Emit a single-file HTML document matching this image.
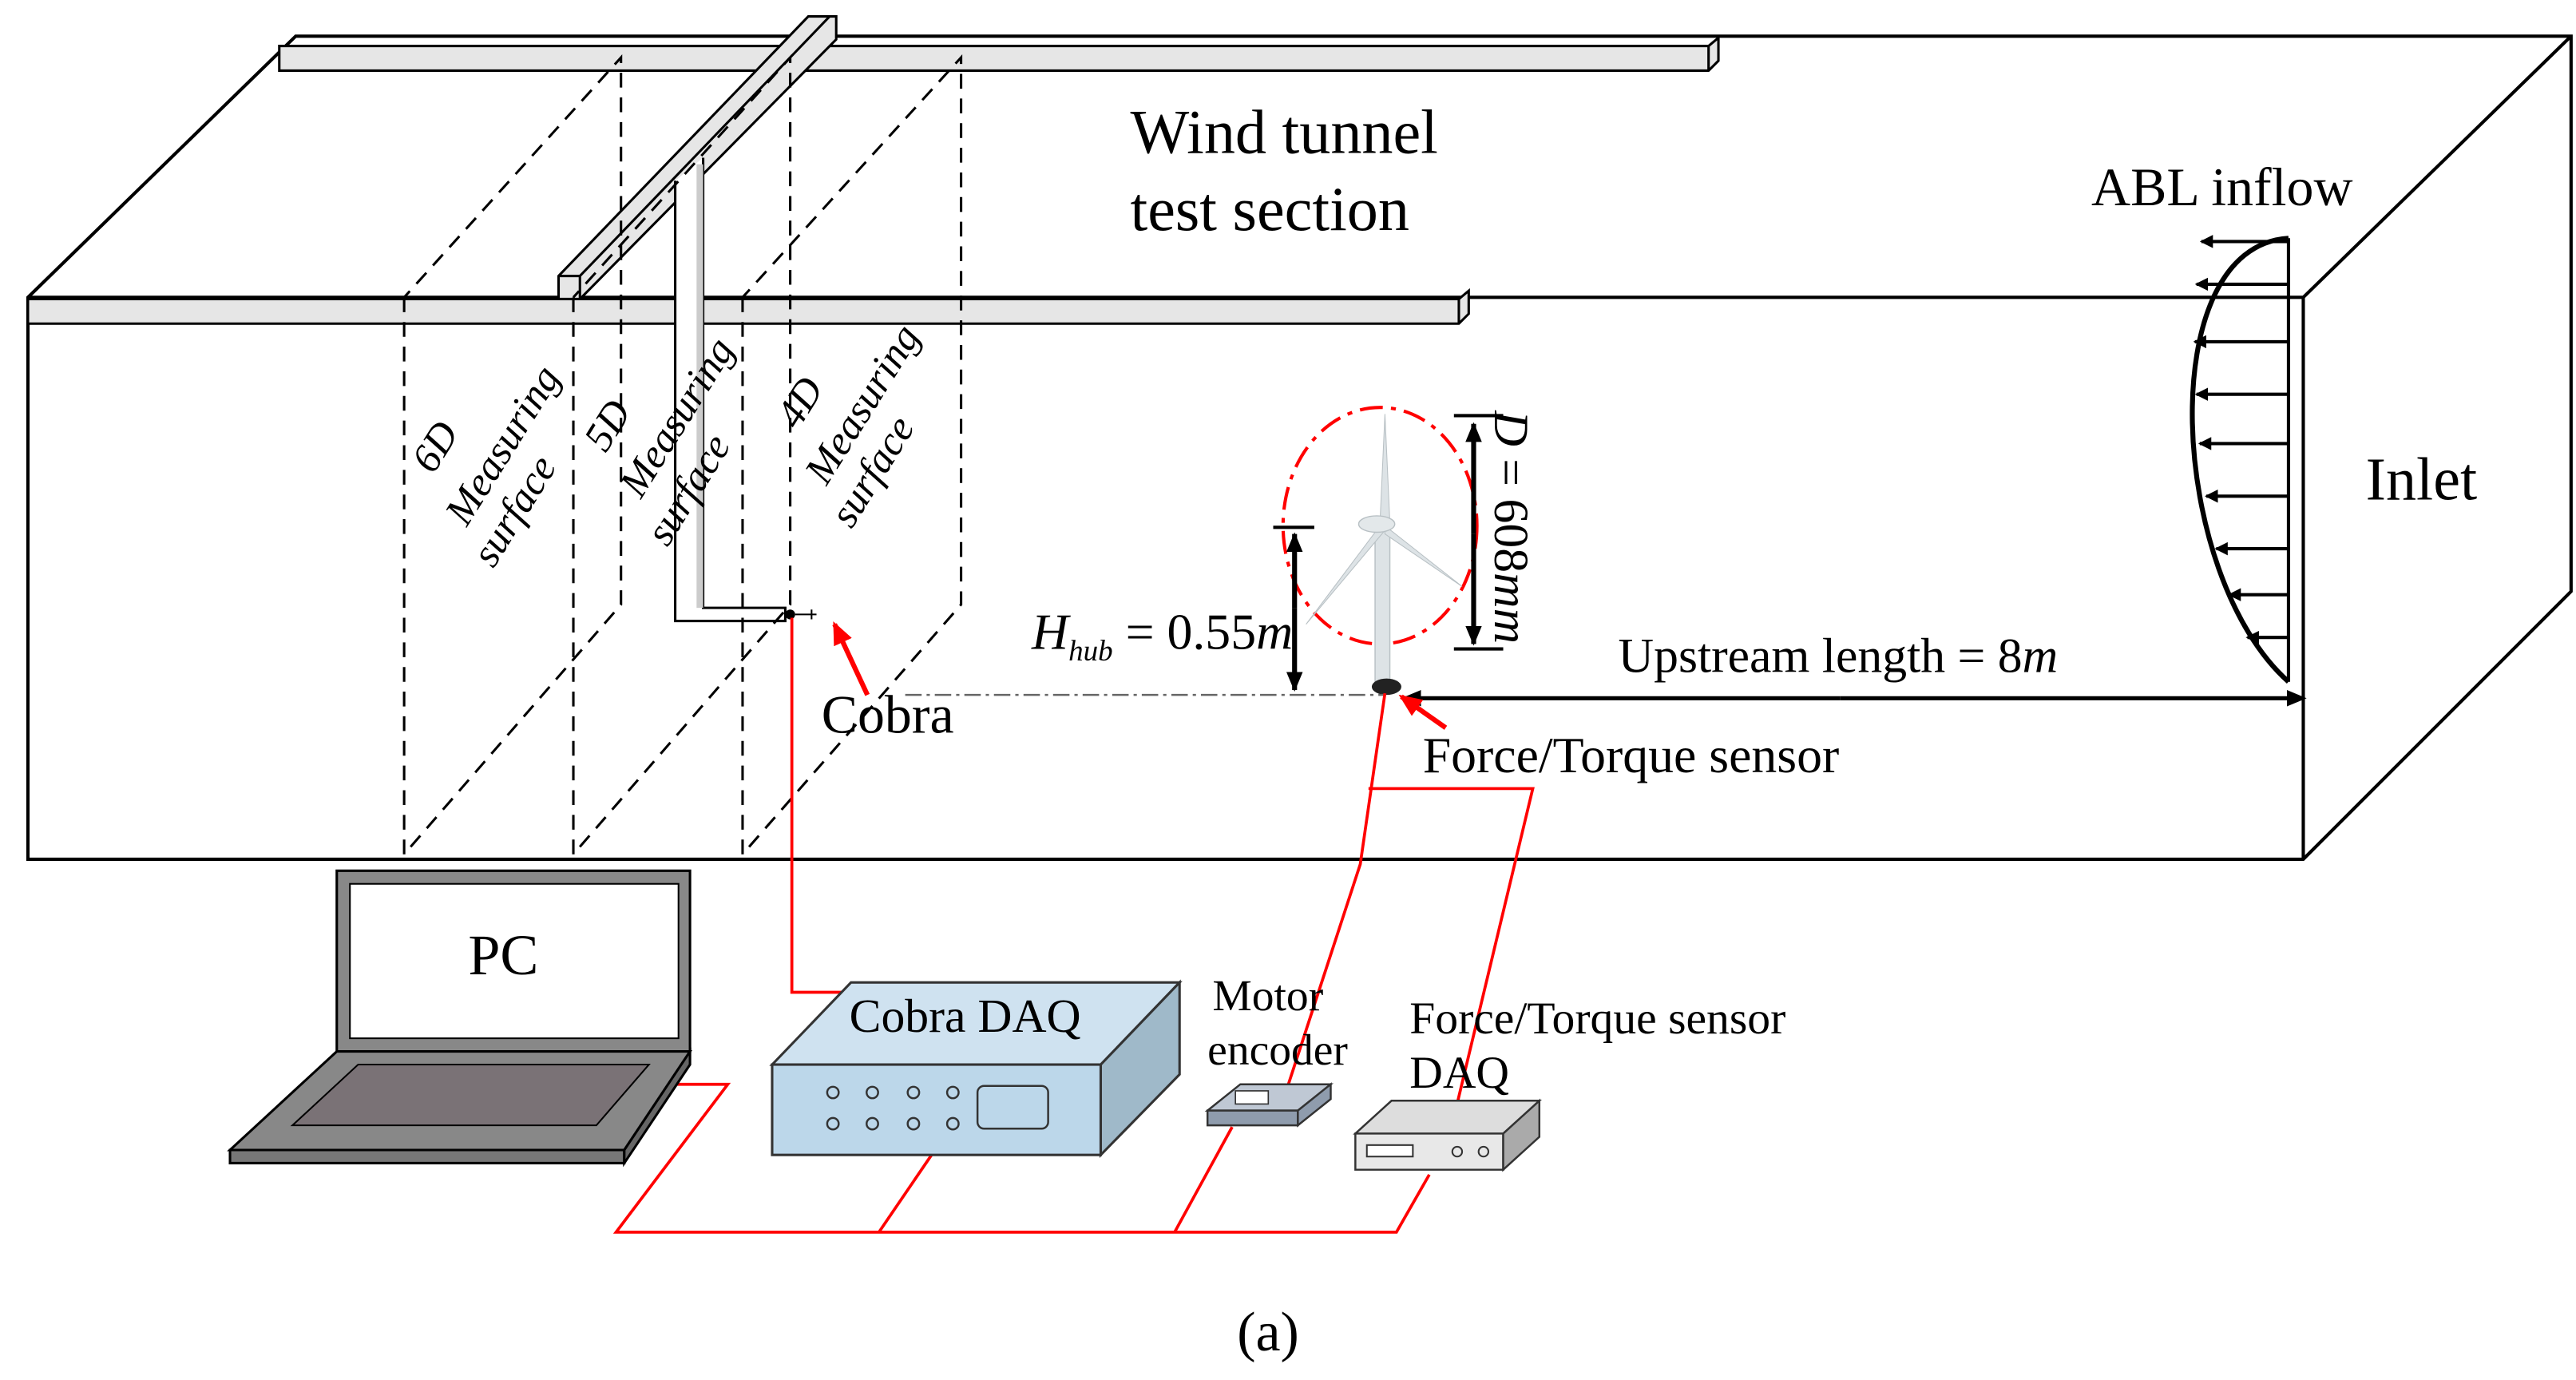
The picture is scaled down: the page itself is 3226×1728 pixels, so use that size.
<!DOCTYPE html>
<html><head><meta charset="utf-8"><style>
html,body{margin:0;padding:0;background:#fff;}
svg{display:block;}
text{font-family:"Liberation Serif",serif;fill:#000;}
</style></head><body>
<svg width="3226" height="1728" viewBox="0 0 1568 840" preserveAspectRatio="none" xmlns="http://www.w3.org/2000/svg">
<defs>
<marker id="ab" markerWidth="8" markerHeight="8" refX="7" refY="4" orient="auto" markerUnits="userSpaceOnUse"><path d="M0,0 L8,4 L0,8 z" fill="#000"/></marker>
<marker id="ar" markerWidth="14" markerHeight="12" refX="12" refY="6" orient="auto" markerUnits="userSpaceOnUse"><path d="M0,0 L14,6 L0,12 z" fill="#f00"/></marker>
<marker id="ak" markerWidth="12" markerHeight="10" refX="11" refY="5" orient="auto" markerUnits="userSpaceOnUse"><path d="M0,0 L12,5 L0,10 z" fill="#000"/></marker>
</defs>
<g stroke="#000" stroke-width="2" fill="none">
<path d="M17,181 L180,22 L1565,22 L1565,360 L1402,523 L17,523 Z"/>
<path d="M17,181 L1402,181 L1565,22 M1402,181 L1402,523"/>
</g>
<g stroke="#000" stroke-width="1.5" fill="#e6e6e6">
<path d="M170,28 L1040,28 L1046,23 L1046,37 L1040,43 L170,43 Z"/>
<path d="M1040,28 L1040,43"/>
<path d="M17,182 L888,182 L894,177 L894,191 L888,197 L17,197 Z"/>
<path d="M888,182 L888,197"/>
<path d="M340,168 L492,10 L509,10 L509,24 L353,182 L340,182 Z"/>
<path d="M340,168 L353,168 L353,182 M353,168 L505,10"/>
</g>
<g stroke="#000" stroke-width="1.5" fill="#fff">
<path d="M411,110 L411,378 L478,378 L478,370 L428,370 L428,96"/>
</g>
<rect x="424" y="100" width="4" height="270" fill="#ccc"/>
<circle cx="481" cy="374" r="3" fill="#000"/>
<path d="M484,374 L497,374 M494,371 L494,377" stroke="#000" stroke-width="1"/>
<g stroke="#000" stroke-width="1.5" fill="none" stroke-dasharray="9,6">
<path d="M246,181 L246,520 L378,368 L378,35 L246,181"/>
<path d="M349,181 L349,520 L481,368 L481,35 L349,181"/>
<path d="M452,181 L452,520 L585,368 L585,35 L452,181"/>
</g>
<g font-size="25" font-style="italic" text-anchor="middle">
<text transform="translate(265,272) rotate(-58)" dy="8">6D</text>
<text transform="translate(306,271) rotate(-58)" dy="8">Measuring</text>
<text transform="translate(313,311) rotate(-58)" dy="8">surface</text>
<text transform="translate(370,259) rotate(-58)" dy="8">5D</text>
<text transform="translate(412,254) rotate(-58)" dy="8">Measuring</text>
<text transform="translate(419,298) rotate(-58)" dy="8">surface</text>
<text transform="translate(487,245) rotate(-58)" dy="8">4D</text>
<text transform="translate(525,246) rotate(-58)" dy="8">Measuring</text>
<text transform="translate(531,287) rotate(-58)" dy="8">surface</text>
</g>
<text x="688" y="93" font-size="38">Wind  tunnel</text>
<text x="688" y="140" font-size="38">test section</text>
<text x="1273" y="125" font-size="33">ABL inflow</text>
<text x="1440" y="304" font-size="37">Inlet</text>
<path d="M1393,145 L1393,415" stroke="#000" stroke-width="2"/>
<path d="M1393,145 C1310,150 1320,350 1393,415" stroke="#000" stroke-width="3" fill="none"/>
<g stroke="#000" stroke-width="2" marker-end="url(#ab)">
<path d="M1393,147 L1340,147"/><path d="M1393,173 L1337,173"/><path d="M1393,208 L1336,208"/>
<path d="M1393,240 L1337,240"/><path d="M1393,270 L1339,270"/><path d="M1393,302 L1343,302"/>
<path d="M1393,334 L1349,334"/><path d="M1393,362 L1357,362"/><path d="M1393,388 L1368,388"/>
</g>
<ellipse cx="840" cy="320" rx="59" ry="72" fill="none" stroke="#f00" stroke-width="2" stroke-dasharray="14,5,3,5"/>
<rect x="837" y="320" width="9" height="96" fill="#dde3e6" stroke="#b8c0c4" stroke-width="0.7"/>
<path d="M840,318 L843,252 L846,318 Z" fill="#dde3e6" stroke="#b8c0c4" stroke-width="0.5"/>
<path d="M840,320 L795,380 L842,324 Z" fill="#dde3e6" stroke="#b8c0c4" stroke-width="0.5"/>
<path d="M843,320 L890,357 L843,325 Z" fill="#dde3e6" stroke="#b8c0c4" stroke-width="0.5"/>
<ellipse cx="838" cy="319" rx="11" ry="5" fill="#e3e8ea" stroke="#b8c0c4" stroke-width="0.7"/>
<ellipse cx="844" cy="418" rx="9" ry="5" fill="#222"/>
<path d="M551,423 L843,423" stroke="#666" stroke-width="1.2" stroke-dasharray="10,3,2,3"/>
<path d="M775,321 L800,321 M885,253 L915,253 M885,395 L915,395" stroke="#000" stroke-width="2"/>
<path d="M788,370 L788,325" stroke="#000" stroke-width="3" marker-end="url(#ak)"/>
<path d="M788,370 L788,420" stroke="#000" stroke-width="3" marker-end="url(#ak)"/>
<path d="M897,325 L897,258" stroke="#000" stroke-width="3" marker-end="url(#ak)"/>
<path d="M897,325 L897,392" stroke="#000" stroke-width="3" marker-end="url(#ak)"/>
<text transform="translate(910,250) rotate(90)" font-size="30"><tspan font-style="italic">D</tspan> = 608<tspan font-style="italic">mm</tspan></text>
<text x="628" y="395" font-size="31"><tspan font-style="italic">H</tspan><tspan font-size="18" font-style="italic" dy="7">hub</tspan><tspan dy="-7"> = 0.55</tspan><tspan font-style="italic">m</tspan></text>
<path d="M1120,425 L854,425" stroke="#000" stroke-width="2.5" marker-end="url(#ak)"/>
<path d="M1120,425 L1403,425" stroke="#000" stroke-width="2.5" marker-end="url(#ak)"/>
<text x="985" y="409" font-size="30">Upstream length = 8<tspan font-style="italic">m</tspan></text>
<text x="866" y="470" font-size="31">Force/Torque sensor</text>
<text x="500" y="446" font-size="33">Cobra</text>
<path d="M528,423 L508,380" stroke="#f00" stroke-width="3" marker-end="url(#ar)"/>
<path d="M880,443 L853,424" stroke="#f00" stroke-width="3" marker-end="url(#ar)"/>
<g stroke="#f00" stroke-width="1.8" fill="none">
<path d="M482,376 L482,604 L520,604"/>
<path d="M843,422 L828,526 L780,673"/>
<path d="M833,480 L933,480 L885,680"/>
<path d="M410,660 L443,660 L375,750 L850,750 L870,715"/>
<path d="M535,750 L580,684"/>
<path d="M715,750 L750,686"/>
</g>
<path d="M205,530 L420,530 L420,640 L205,640 Z" fill="#888" stroke="#000" stroke-width="1.5"/>
<rect x="213" y="538" width="200" height="94" fill="#fff" stroke="#000" stroke-width="1"/>
<path d="M205,640 L420,640 L380,700 L140,700 Z" fill="#888" stroke="#000" stroke-width="1.5"/>
<path d="M218,648 L395,648 L363,685 L178,685 Z" fill="#7a7276" stroke="#000" stroke-width="1"/>
<path d="M140,700 L380,700 L380,708 L140,708 Z" fill="#777" stroke="#000" stroke-width="1.5"/>
<path d="M380,700 L420,640 L420,648 L380,708 Z" fill="#666" stroke="#000" stroke-width="1.5"/>
<text x="285" y="593" font-size="35">PC</text>
<path d="M470,648 L670,648 L718,598 L518,598 Z" fill="#cfe2f0" stroke="#333" stroke-width="1.5"/>
<path d="M670,648 L718,598 L718,654 L670,703 Z" fill="#9fb9c9" stroke="#333" stroke-width="1.5"/>
<rect x="470" y="648" width="200" height="55" fill="#bcd7ea" stroke="#333" stroke-width="1.5"/>
<text x="517" y="628" font-size="29">Cobra DAQ</text>
<g fill="none" stroke="#333" stroke-width="1.2">
<circle cx="507" cy="665" r="3.5"/><circle cx="531" cy="665" r="3.5"/><circle cx="556" cy="665" r="3.5"/><circle cx="580" cy="665" r="3.5"/>
<circle cx="507" cy="684" r="3.5"/><circle cx="531" cy="684" r="3.5"/><circle cx="556" cy="684" r="3.5"/><circle cx="580" cy="684" r="3.5"/>
<rect x="595" y="661" width="43" height="26" rx="4"/>
</g>
<path d="M735,676 L790,676 L810,660 L755,660 Z" fill="#bfc8d4" stroke="#333" stroke-width="1.2"/>
<path d="M735,676 L790,676 L790,685 L735,685 Z" fill="#8f9cad" stroke="#333" stroke-width="1.2"/>
<path d="M790,676 L810,660 L810,669 L790,685 Z" fill="#8f9cad" stroke="#333" stroke-width="1.2"/>
<rect x="752" y="664" width="20" height="8" fill="#fff" stroke="#333" stroke-width="0.8"/>
<text x="738" y="615" font-size="27">Motor</text>
<text x="735" y="648" font-size="27">encoder</text>
<path d="M825,690 L915,690 L937,670 L847,670 Z" fill="#ddd" stroke="#333" stroke-width="1.2"/>
<path d="M825,690 L915,690 L915,712 L825,712 Z" fill="#e8e8e8" stroke="#333" stroke-width="1.2"/>
<path d="M915,690 L937,670 L937,692 L915,712 Z" fill="#aaa" stroke="#333" stroke-width="1.2"/>
<rect x="832" y="697" width="28" height="7" fill="#fff" stroke="#333" stroke-width="1"/>
<circle cx="887" cy="701" r="3" fill="none" stroke="#333"/><circle cx="903" cy="701" r="3" fill="none" stroke="#333"/>
<text x="858" y="629" font-size="28">Force/Torque sensor</text>
<text x="858" y="662" font-size="28">DAQ</text>
<text x="753" y="822" font-size="34">(a)</text>
</svg>
</body></html>
